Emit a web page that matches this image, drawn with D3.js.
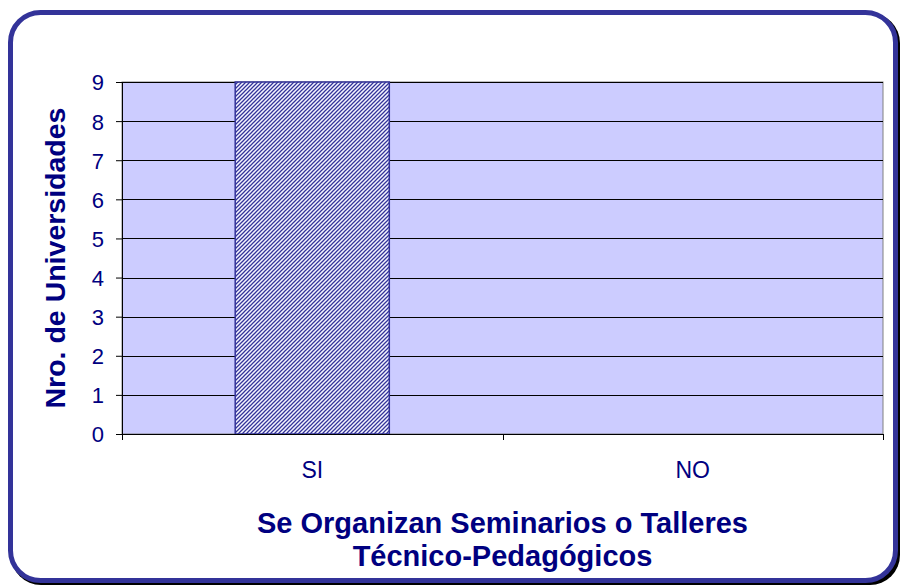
<!DOCTYPE html>
<html><head><meta charset="utf-8">
<script src="https://cdn.jsdelivr.net/npm/d3@7"></script>
<style>body{margin:0;background:#fff;}svg{display:block;font-family:Arial,"Liberation Sans",sans-serif;}</style>
</head><body>
<script>
const categories = ["SI", "NO"];
const values = [9, 0];
const yTicks = [0,1,2,3,4,5,6,7,8,9];
const xTitle = ["Se Organizan Seminarios o Talleres", "Técnico-Pedagógicos"];
const yTitle = "Nro. de Universidades";

const W = 901, H = 586;
const svg = d3.select("body").append("svg").attr("width", W).attr("height", H);
const defs = svg.append("defs");
const pat = defs.append("pattern").attr("id","hatch").attr("patternUnits","userSpaceOnUse")
  .attr("width",4).attr("height",4);
pat.append("rect").attr("width",4).attr("height",4).attr("fill","#f4f4ff");
pat.append("path").attr("d","M-1,1 l2,-2 M0,4 l4,-4 M3,5 l2,-2").attr("stroke","#333399").attr("stroke-width",1.25);

// frame shadow and border
svg.append("rect").attr("x",11).attr("y",13).attr("width",889).attr("height",572).attr("rx",30).attr("fill","#000");
svg.append("rect").attr("x",10.5).attr("y",12.5).attr("width",885).attr("height",568).attr("rx",30)
  .attr("fill","#fff").attr("stroke","#333399").attr("stroke-width",5);

const m = {l:122, r:883, t:82, b:434};
const x = d3.scaleBand().domain(categories).range([m.l, m.r]).paddingInner(0.595).paddingOuter(0.2975);
const xb = d3.scaleBand().domain(categories).range([m.l, m.r]);
const y = d3.scaleLinear().domain([0,9]).range([m.b, m.t]);

svg.append("rect").attr("x",m.l).attr("y",m.t).attr("width",m.r-m.l).attr("height",m.b-m.t)
  .attr("fill","#ccccff").attr("stroke","#808080").attr("stroke-width",1);

// gridlines
svg.append("g").selectAll("line").data(yTicks.filter(d=>d>0)).join("line")
  .attr("x1",m.l).attr("x2",m.r).attr("y1",d=>Math.round(y(d))+0.5).attr("y2",d=>Math.round(y(d))+0.5)
  .attr("stroke","#000").attr("stroke-width",1);

// bars
svg.append("g").selectAll("rect").data(categories).join("rect")
  .attr("x",d=>x(d)).attr("width",x.bandwidth())
  .attr("y",(d,i)=>y(values[i])).attr("height",(d,i)=>y(0)-y(values[i]))
  .attr("fill","url(#hatch)").attr("stroke","#333399").attr("stroke-width",1.5);

// y axis
const ya = d3.axisLeft(y).tickValues(yTicks).tickSize(6).tickPadding(12).tickFormat(d3.format("d"));
const gy = svg.append("g").attr("transform",`translate(${m.l},0)`).call(ya);
gy.select(".domain").attr("stroke","#000");
gy.selectAll(".tick line").attr("stroke","#000");
gy.selectAll("text").attr("fill","#000080").attr("font-size","22px").attr("dy","0.36em")
  .attr("font-family","Arial,'Liberation Sans',sans-serif");

// x axis
const gx = svg.append("g").attr("transform",`translate(0,${m.b})`);
gx.append("line").attr("x1",m.l).attr("x2",m.r).attr("y1",0.5).attr("y2",0.5).attr("stroke","#000");
const bounds = [m.l, ...categories.map(c=>xb(c)+xb.bandwidth())];
gx.selectAll(".tk").data(bounds).join("line").attr("class","tk")
  .attr("x1",d=>Math.round(d)+0.5).attr("x2",d=>Math.round(d)+0.5).attr("y1",0).attr("y2",6).attr("stroke","#000");
gx.selectAll("text").data(categories).join("text")
  .attr("x",d=>xb(d)+xb.bandwidth()/2).attr("y",44).attr("text-anchor","middle")
  .attr("fill","#000080").attr("font-size","23px").text(d=>d);

// titles
svg.append("g").selectAll("text").data(xTitle).join("text")
  .attr("x",(m.l+m.r)/2).attr("y",(d,i)=>533+i*33).attr("text-anchor","middle")
  .attr("fill","#000080").attr("font-size","29px").attr("font-weight","bold").text(d=>d);
svg.append("text").attr("transform",`translate(65,${(m.t+m.b)/2}) rotate(-90)`)
  .attr("text-anchor","middle").attr("fill","#000080").attr("font-size","28.5px").attr("font-weight","bold").text(yTitle);
</script>
</body></html>
